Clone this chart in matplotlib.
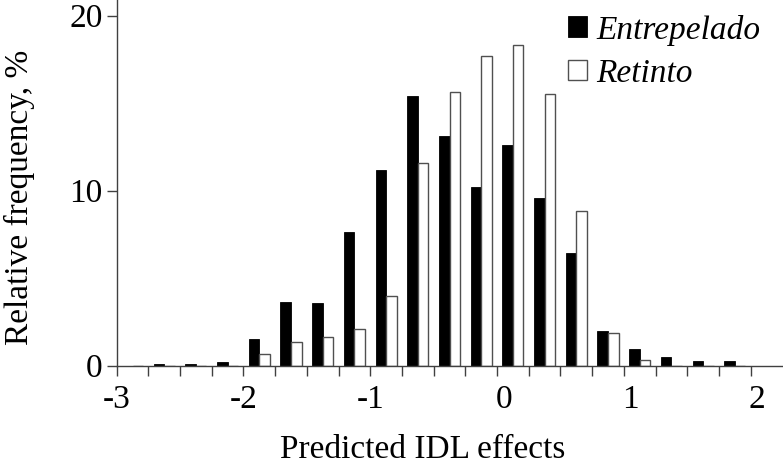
import numpy as np
import matplotlib
matplotlib.use('Agg')
import matplotlib.pyplot as plt
import matplotlib.transforms as mtransforms

# Bin centres (bins of width 0.25 from -3 to 2)
bin_centres = [-2.875, -2.625, -2.375, -2.125, -1.875, -1.625, -1.375, -1.125,
               -0.875, -0.625, -0.375, -0.125, 0.125, 0.375, 0.625, 0.875,
               1.125, 1.375, 1.625, 1.875]
entrepelado = [0.0, 0.1, 0.1, 0.2, 1.5, 3.66, 3.56, 7.66, 11.17, 15.43, 13.13,
               10.23, 12.63, 9.56, 6.46, 1.98, 0.97, 0.48, 0.29, 0.29]
retinto = [0.0, 0.0, 0.0, 0.0, 0.67, 1.33, 1.66, 2.08, 3.98, 11.6, 15.66,
           17.72, 18.33, 15.54, 8.86, 1.89, 0.3, 0.0, 0.0, 0.0]
xtick_labels = ['-3', '-2', '-1', '0', '1', '2']
ytick_values = [0, 10, 20]

plt.rcParams['font.family'] = ['Liberation Serif', 'DejaVu Serif']

fig = plt.figure(figsize=(7.83, 4.65), dpi=100)
ax = fig.add_axes([0.149, 0.2135, 0.851, 0.7865])

x = np.array(bin_centres)
w = 0.25 / 3
ax.bar(x - w / 2, entrepelado, width=w, color='black', edgecolor='black',
       linewidth=0.6, label='Entrepelado')
ax.bar(x + w / 2, retinto, width=w, color='white', edgecolor='#505050',
       linewidth=1.0, label='Retinto')

ax.set_xlim(-3, 2.255)
ax.set_ylim(0, 20.9)

for s in ['top', 'right']:
    ax.spines[s].set_visible(False)
for s in ['left', 'bottom']:
    ax.spines[s].set_color('#404040')
    ax.spines[s].set_linewidth(1.0)

ax.set_xticks(np.arange(-3, 2.01, 0.25), minor=True)
ax.set_xticks([int(t) for t in xtick_labels])
ax.set_xticklabels(xtick_labels)
ax.tick_params(axis='x', which='both', direction='out', length=7, width=1,
               color='#404040', labelsize=24, pad=6.5)
ax.set_yticks(ytick_values)
ax.tick_params(axis='y', direction='out', length=7, width=1,
               color='#404040', labelsize=24, pad=3)

# non-negative labels sit a little to the right in the original
for lbl in ax.get_xticklabels():
    if not lbl.get_text().startswith('-'):
        off = mtransforms.ScaledTranslation(6.5 / 100, 0, fig.dpi_scale_trans)
        lbl.set_transform(lbl.get_transform() + off)

ax.set_xlabel('Predicted IDL effects', fontsize=24)
ax.xaxis.set_label_coords(0.4587, -0.1875)
ax.set_ylabel('Relative frequency, %', fontsize=24)
ax.yaxis.set_label_coords(-0.1226, 0.461)

leg = ax.legend(loc='upper left', bbox_to_anchor=(568 / 783, 1 - 14.5 / 465),
                bbox_transform=fig.transFigure, frameon=False,
                prop={'style': 'italic', 'size': 24}, handlelength=0.57,
                handleheight=0.57, handletextpad=0.27, borderpad=0,
                borderaxespad=0, labelspacing=0.38)

fig.savefig('out.png', dpi=100)
